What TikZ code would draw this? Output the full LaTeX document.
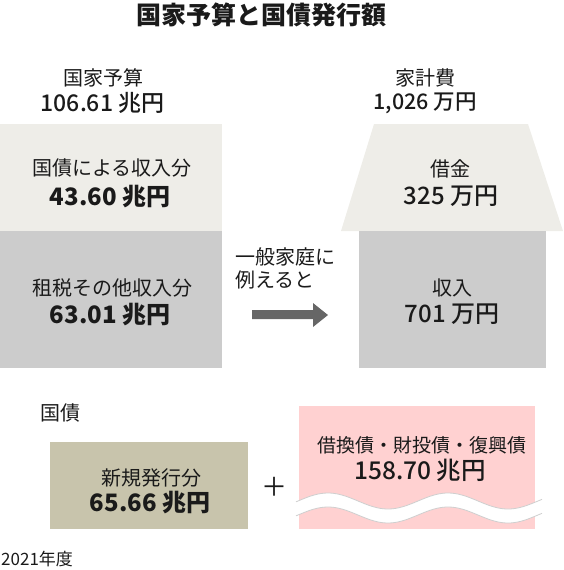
\documentclass[tikz,border=0pt]{standalone}
\usepackage{fontspec}
\setmainfont{Noto Sans CJK JP}
\newfontfamily\medfont{Noto Sans CJK JP Medium}
\definecolor{lightc}{HTML}{EEEDE8}
\definecolor{grayc}{HTML}{CCCCCC}
\definecolor{tanc}{HTML}{C8C4AC}
\definecolor{pinkc}{HTML}{FFD1D1}
\definecolor{arrowc}{HTML}{666666}
\definecolor{textc}{HTML}{1A1A1A}
\definecolor{wavec}{HTML}{CFCFCF}
\begin{document}
\begin{tikzpicture}[x=1pt,y=-1pt,
  lbl/.style={font=\fontsize{20}{24}\selectfont,text=textc,inner sep=0},
  slbl/.style={font=\fontsize{19}{23}\selectfont,text=textc,inner sep=0},
  num/.style={font=\fontsize{24}{28}\selectfont\bfseries,text=textc,inner sep=0},
  mnum/.style={font=\fontsize{23}{27}\selectfont\medfont,text=textc,inner sep=0}]
\useasboundingbox (0,0) rectangle (564,570);
% title
\node[font=\fontsize{25}{29}\selectfont\bfseries,text=textc,inner sep=0] (title) at (261,15) {国家予算と国債発行額};
% headers
\node[lbl] (natlabel) at (103,78) {国家予算};
\node[mnum] (natval) at (102.5,103) {106.61 兆円};
\node[lbl] (hhlabel) at (425,78) {家計費};
\node[mnum,font=\fontsize{21.5}{26}\selectfont\medfont] (hhval) at (425,103) {1,026 万円};
% left stack
\fill[lightc] (0,124) rectangle (222,231);
\fill[grayc] (0,231) rectangle (222,368);
\node[lbl] (bondlbl) at (112,168) {国債による収入分};
\node[num] (bondval) at (110,197) {43.60 兆円};
\node[lbl] (taxlbl) at (112,288) {租税その他収入分};
\node[num] (taxval) at (110,315) {63.01 兆円};
% right house
\fill[lightc] (374,124) -- (528,124) -- (563,231) -- (341,231) -- cycle;
\fill[grayc] (359,231) rectangle (546,368);
\node[lbl] (loanlbl) at (450,169) {借金};
\node[mnum,font=\fontsize{24}{28}\selectfont\medfont] (loanval) at (451,196) {325 万円};
\node[lbl] (inclbl) at (452,288) {収入};
\node[mnum,font=\fontsize{24}{28}\selectfont\medfont] (incval) at (452,314) {701 万円};
% middle
\node[lbl,anchor=west] (mid1) at (235,257) {一般家庭に};
\node[lbl,anchor=west] (mid2) at (235,280) {例えると};
\fill[arrowc] (252,310) -- (313,310) -- (313,303) -- (328,315) -- (313,327) -- (313,319) -- (252,319) -- cycle;
% bottom
\node[lbl,anchor=west] (jgb) at (40,413) {国債};
\fill[tanc] (50,442) rectangle (248,529);
\node[lbl] (newlbl) at (151,478) {新規発行分};
\node[num] (newval) at (150,503) {65.66 兆円};
\node[font=\fontsize{26}{30}\selectfont,text=textc,inner sep=0] (plus) at (274,487) {＋};
\fill[pinkc] (299,406) rectangle (535,529);
\fill[white] plot[domain=296:542,samples=80] (\x,{501-8*cos(3*(\x-328))}) -- plot[domain=542:296,samples=80] (\x,{515-8*cos(3*(\x-328))}) -- cycle;
\draw[wavec,line width=0.8pt] plot[domain=296:542,samples=80] (\x,{501-8*cos(3*(\x-328))});
\draw[wavec,line width=0.8pt] plot[domain=296:542,samples=80] (\x,{515-8*cos(3*(\x-328))});
\node[slbl] (reflbl) at (422,445) {借換債・財投債・復興債};
\node[mnum,font=\fontsize{24.5}{29}\selectfont\medfont] (refval) at (420,470) {158.70 兆円};
\node[font=\fontsize{17}{20}\selectfont,text=textc,inner sep=0,anchor=west] (year) at (1,559) {2021年度};
\end{tikzpicture}
\end{document}
